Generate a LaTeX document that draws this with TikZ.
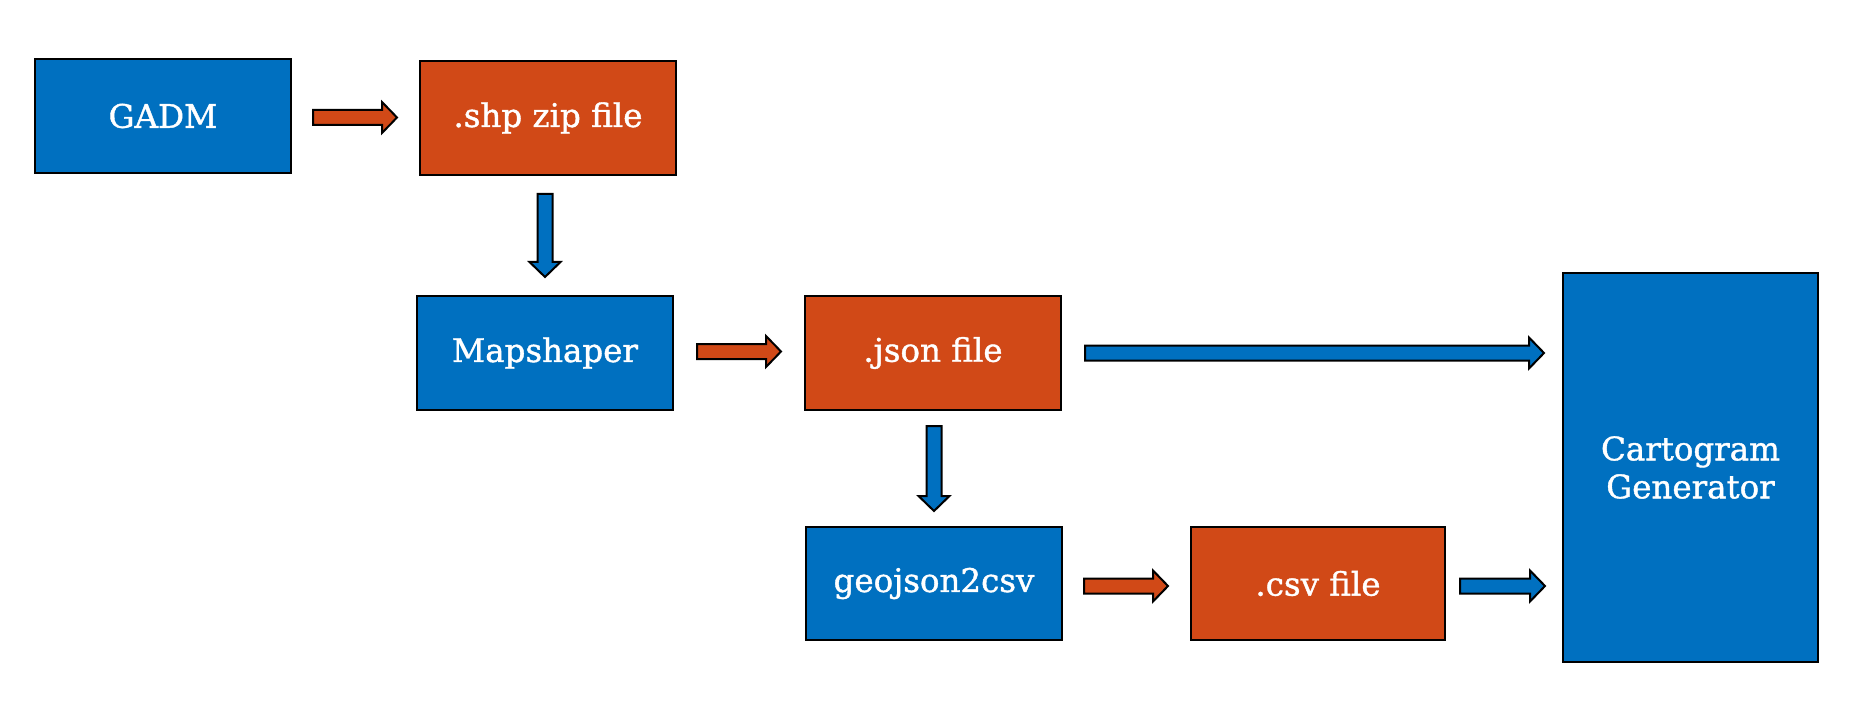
\documentclass[tikz,border=0pt]{standalone}
\usepackage{fontspec}
\setmainfont{DejaVu Serif}
\newfontfamily\boxfont{DejaVu Serif}[FakeBold=1.2]
\usetikzlibrary{calc}
\definecolor{cblue}{HTML}{0070C0}
\definecolor{corange}{HTML}{D14917}
\tikzset{
  box/.style={draw=black, line width=2pt, minimum width=256pt, minimum height=114pt,
    inner sep=0pt, text=white, font=\boxfont\fontsize{32.5}{38}\selectfont, align=center},
  bluebox/.style={box, fill=cblue},
  orangebox/.style={box, fill=corange},
  blk/.style={draw=black, line width=2pt, line join=miter}
}
% horizontal block arrow: from anchor, to anchor, gap1, gap2, dy, colour
\newcommand\harrow[6]{%
  \coordinate (s) at ($(#1)+(#3,#5)$);
  \coordinate (e) at ($(#2 |- s)+(-#4,0)$);
  \draw[blk,fill=#6] ($(s)+(0,-7.5)$) -- ($(e)+(-15,-7.5)$) -- ($(e)+(-15,-15.5)$) -- (e)
    -- ($(e)+(-15,15.5)$) -- ($(e)+(-15,7.5)$) -- ($(s)+(0,7.5)$) -- cycle;}
% vertical block arrow: from anchor, to anchor, gap1, gap2, colour
\newcommand\varrow[5]{%
  \coordinate (s) at ($(#2 |- #1)+(0,#3)$);
  \coordinate (e) at ($(#2)+(0,-#4)$);
  \draw[blk,fill=#5] ($(s)+(-7.5,0)$) -- ($(e)+(-7.5,-15)$) -- ($(e)+(-15.5,-15)$) -- (e)
    -- ($(e)+(15.5,-15)$) -- ($(e)+(7.5,-15)$) -- ($(s)+(7.5,0)$) -- cycle;}
\begin{document}
\begin{tikzpicture}[x=1pt,y=-1pt]
\useasboundingbox (0,0) rectangle (1865,711);
\node[bluebox]   (gadm) at (163,116)  {GADM};
\node[orangebox] (shp)  at (548,118)  {.shp zip file};
\node[bluebox]   (map)  at (545,353)  {Mapshaper};
\node[orangebox] (json) at (933,353)  {.json file};
\node[bluebox, minimum height=113pt]   (geo)  at (934,583.5) {geojson2csv};
\node[orangebox, minimum width=254pt, minimum height=113pt] (csv)  at (1318,583.5) {.csv file};
\node[bluebox, minimum width=255pt, minimum height=389pt] (cg) at (1690.5,467.5) {Cartogram\\Generator};
\harrow{gadm.east}{shp.west}{21}{22}{1.5}{corange}
\varrow{shp.south}{map.north}{18}{18}{cblue}
\harrow{map.east}{json.west}{23}{23}{-1.5}{corange}
\harrow{json.east}{cg.west}{23}{18}{0}{cblue}
\varrow{json.south}{geo.north}{15}{15}{cblue}
\harrow{geo.east}{csv.west}{21}{22}{2.5}{corange}
\harrow{csv.east}{cg.west}{14}{17}{2.5}{cblue}
\end{tikzpicture}
\end{document}
